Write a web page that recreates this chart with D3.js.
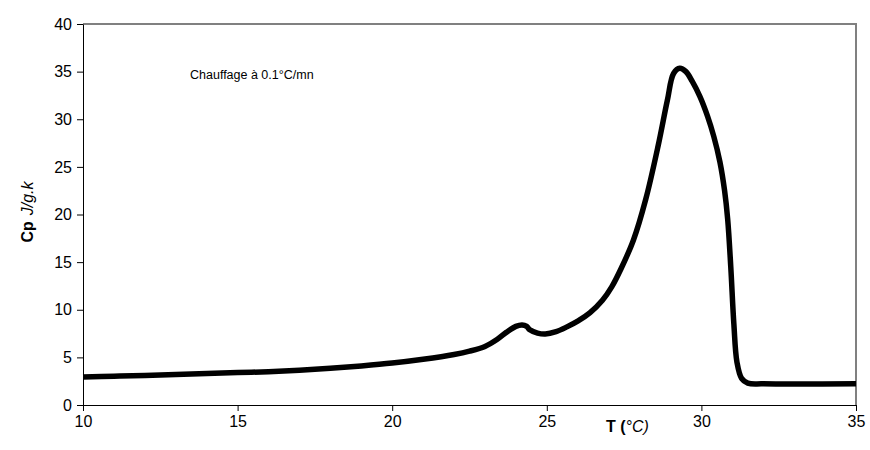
<!DOCTYPE html>
<html>
<head>
<meta charset="utf-8">
<script src="https://cdn.jsdelivr.net/npm/d3@7"></script>
<style>
    body { margin: 0; background: #fff; }
    text { font-family: "Liberation Sans", Arial, sans-serif; }
</style>
</head>
<body>
<svg id="chart" width="870" height="450"></svg>
<script>
// heating curve
const temperature = [10, 11, 12, 13, 14, 15, 16, 17, 18, 19, 20, 21, 22, 22.5, 23, 23.4, 23.7, 24.0, 24.2, 24.35, 24.45, 24.7, 24.95, 25.3, 25.65, 26.0, 26.4, 26.8, 27.1, 27.4, 27.8, 28.2, 28.6, 28.9, 29.1, 29.3, 29.5, 29.7, 29.95, 30.2, 30.4, 30.6, 30.75, 30.85, 30.95, 31.05, 31.15, 31.3, 31.5, 32, 35]
const cp = [2.95, 3.02, 3.1, 3.2, 3.3, 3.4, 3.5, 3.65, 3.85, 4.1, 4.4, 4.8, 5.3, 5.65, 6.15, 6.9, 7.65, 8.25, 8.4, 8.25, 7.9, 7.55, 7.45, 7.7, 8.2, 8.8, 9.7, 11.0, 12.4, 14.3, 17.3, 21.6, 27.2, 32.0, 34.8, 35.35, 35.0, 34.0, 32.4, 30.3, 28.2, 25.5, 22.5, 19.5, 14.5, 8.5, 4.5, 2.8, 2.3, 2.22, 2.22]
const xTicks = [10, 15, 20, 25, 30, 35]
const yTicks = [0, 5, 10, 15, 20, 25, 30, 35, 40]

const plot = { left: 83, right: 856, top: 24, bottom: 405 }

const svg = d3.select('#chart')

const x = d3.scaleLinear().domain([10, 35]).range([plot.left, plot.right])
const y = d3.scaleLinear().domain([0, 40]).range([plot.bottom, plot.top])

// gray frame on top and right
svg.append('path')
    .attr('d', `M${plot.left},${plot.top}H${plot.right}V${plot.bottom}`)
    .attr('fill', 'none')
    .attr('stroke', '#808080')
    .attr('stroke-width', 2)

svg.append('g')
    .attr('transform', `translate(0,${plot.bottom})`)
    .call(d3.axisBottom(x).tickValues(xTicks).tickSize(6).tickSizeOuter(0).tickPadding(5))

svg.append('g')
    .attr('transform', `translate(${plot.left},0)`)
    .call(d3.axisLeft(y).tickValues(yTicks).tickSize(6).tickSizeOuter(0).tickPadding(5))

svg.selectAll('.tick text')
    .attr('font-size', 16)
    .attr('fill', '#000')
    .style('font-family', '"Liberation Sans", Arial, sans-serif')

const line = d3.line()
    .x((d, i) => x(temperature[i]))
    .y((d) => y(d))
    .curve(d3.curveCatmullRom.alpha(0.5))

svg.append('path')
    .datum(cp)
    .attr('d', line)
    .attr('fill', 'none')
    .attr('stroke', '#000')
    .attr('stroke-width', 5.5)
    .attr('stroke-linejoin', 'round')

// annotation
svg.append('text')
    .attr('x', 190)
    .attr('y', 79)
    .attr('font-size', 12.5)
    .text('Chauffage à 0.1°C/mn')

// axis titles
const xTitle = svg.append('text')
    .attr('x', 606)
    .attr('y', 432)
    .attr('font-size', 16)
xTitle.append('tspan').attr('font-weight', 'bold').text('T (')
xTitle.append('tspan').attr('font-style', 'italic').text('°C)')

const yTitle = svg.append('text')
    .attr('transform', 'translate(33,212) rotate(-90)')
    .attr('text-anchor', 'middle')
    .attr('font-size', 16)
yTitle.append('tspan').attr('font-weight', 'bold').text('Cp')
yTitle.append('tspan').attr('font-style', 'italic').attr('dx', 6).text('J/g.k')
</script>
</body>
</html>
